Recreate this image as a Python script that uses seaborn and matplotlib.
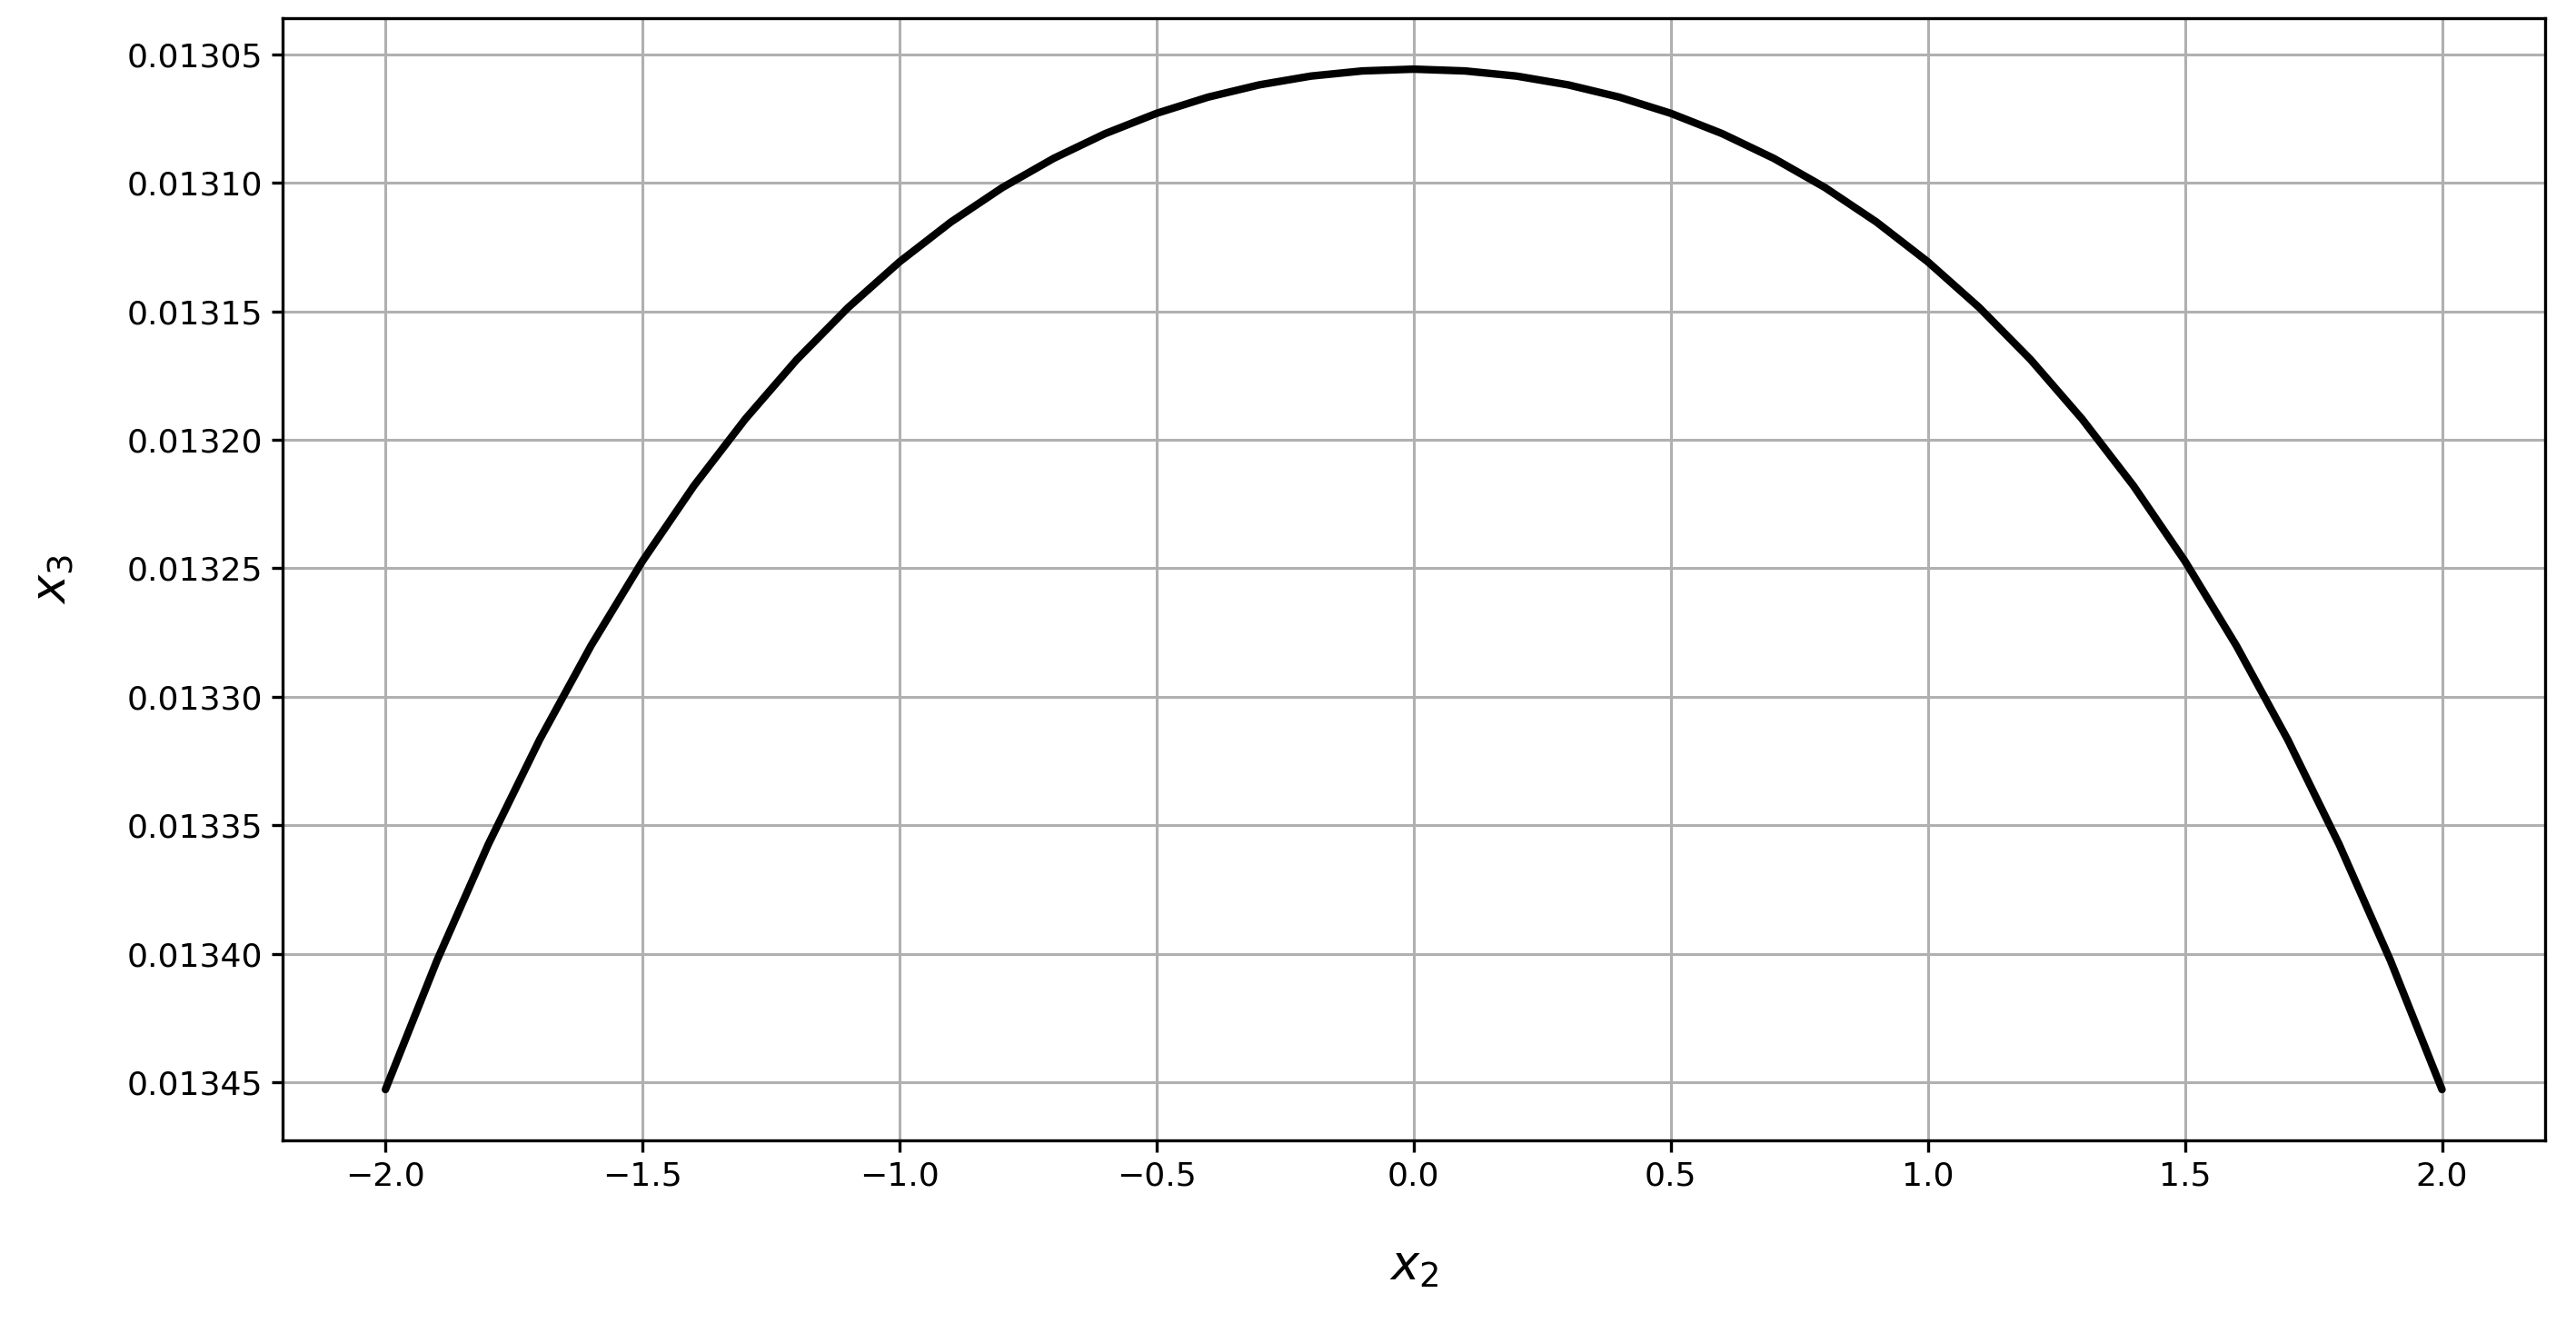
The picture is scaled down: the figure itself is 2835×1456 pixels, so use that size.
import matplotlib
matplotlib.use("Agg")
import matplotlib.pyplot as plt
import seaborn as sns
import pandas as pd
from matplotlib.ticker import ScalarFormatter

x2 = [-2.0, -1.9, -1.8, -1.7, -1.6, -1.5, -1.4, -1.3, -1.2, -1.1, -1.0,
      -0.9, -0.8, -0.7, -0.6, -0.5, -0.4, -0.3, -0.2, -0.1, 0.0,
      0.1, 0.2, 0.3, 0.4, 0.5, 0.6, 0.7, 0.8, 0.9, 1.0,
      1.1, 1.2, 1.3, 1.4, 1.5, 1.6, 1.7, 1.8, 1.9, 2.0]
x3_half = [0.0134529, 0.0134028, 0.0133575, 0.0133167, 0.0132801, 0.0132472,
           0.0132179, 0.0131919, 0.0131688, 0.0131485, 0.0131307,
           0.0131152, 0.0131018, 0.0130904, 0.0130808, 0.0130729,
           0.0130666, 0.0130618, 0.0130584, 0.0130564, 0.0130557]
x3 = x3_half + x3_half[-2::-1]

sns.set_style("ticks", {"text.color": "black", "axes.labelcolor": "black",
                        "xtick.color": "black", "ytick.color": "black",
                        "axes.edgecolor": "black"})
plt.rcParams['font.family'] = ['DejaVu Sans']

df = pd.DataFrame({"x2": x2, "x3": x3})

fig, ax = plt.subplots(figsize=(14.175, 7.28), dpi=200)
fig.subplots_adjust(left=0.1097, right=0.9879, top=0.9863, bottom=0.1379)

sns.lineplot(data=df, x="x2", y="x3", color="black", linewidth=3.0, ax=ax)
ax.invert_yaxis()

ax.grid(True, color="#b0b0b0", linewidth=1.1)
ax.set_axisbelow(True)
for s in ax.spines.values():
    s.set_visible(True)
    s.set_color("black")
    s.set_linewidth(1.2)

fmt = ScalarFormatter(useOffset=False)
ax.yaxis.set_major_formatter(fmt)
ax.set_xticks([-2.0, -1.5, -1.0, -0.5, 0.0, 0.5, 1.0, 1.5, 2.0])
ax.set_yticks([0.01305, 0.01310, 0.01315, 0.01320, 0.01325, 0.01330, 0.01335, 0.01340, 0.01345])
ax.tick_params(axis="both", labelsize=13, length=4.5, width=1.2,
               color="black", labelcolor="black")

ax.set_xlabel("$x_2$", fontsize=19, labelpad=20, color="black")
ax.set_ylabel("$x_3$", fontsize=19, labelpad=20, color="black")

fig.savefig("out.png", dpi=200)
